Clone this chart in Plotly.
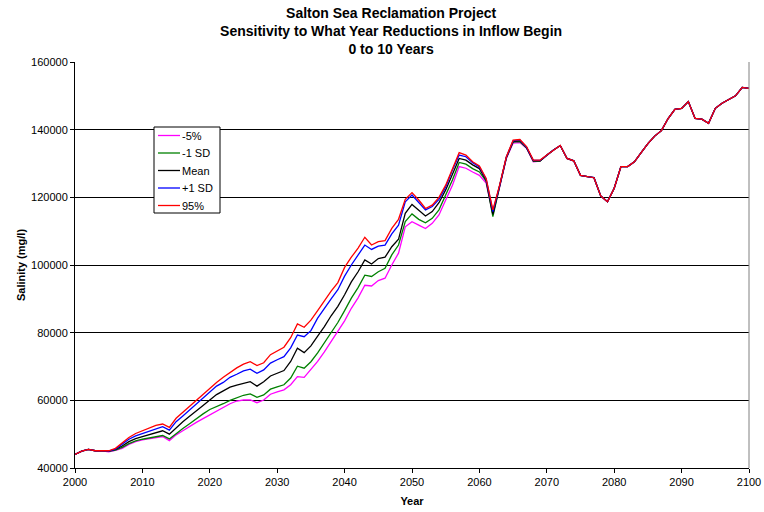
import plotly.graph_objects as go

years = list(range(2000, 2101))

# shared tail, 2070-2100 (all five series coincide)
tail = [132500, 134000, 135300, 131500, 130800, 126500, 126100, 125800, 120400, 118700,
        122700, 129100, 129100, 130500, 133200, 135900, 138100, 139700, 143300, 146000,
        146300, 148300, 143300, 143100, 141900, 146300, 147800, 148800, 150000, 152500,
        152200]

start = [44000, 45000, 45500, 45100, 45100]  # 2000-2004

p95 = start + [45100, 45800, 47500, 49000, 50200, 51000, 51800, 52600, 53000, 52000,
               54700, 56500, 58300, 60000, 61800, 63500, 65300, 66800, 68200, 69600,
               70700, 71400, 70300, 71100, 73500, 74500, 75700, 78500, 82600, 81600,
               83700, 86500, 89500, 92300, 94800, 99300, 102300, 105000, 108200, 105900,
               106900, 107200, 110800, 113500, 119400, 121400, 119200, 116700, 117700, 120000,
               123600, 128600, 133200, 132500, 130500, 129300, 125600, 116300, 123600, 132000,
               136900, 137100, 135000, 131000, 131000] + tail
plus1 = start + [45000, 45600, 47100, 48500, 49500, 50200, 51000, 51700, 52200, 51200,
                 53700, 55400, 57200, 58900, 60700, 62600, 64200, 65300, 66800, 67700,
                 68700, 69200, 68000, 69000, 71000, 72000, 72900, 75500, 79300, 78800,
                 80600, 84300, 87300, 90000, 92700, 96700, 100000, 103000, 105900, 104600,
                 105600, 105900, 109200, 111800, 118700, 120700, 118400, 116300, 117300, 119400,
                 123100, 128100, 132500, 132000, 130200, 129000, 125400, 115800, 123400, 131900,
                 136700, 137000, 134800, 130900, 130900] + tail
mean = start + [45000, 45500, 46500, 47800, 48700, 49300, 49900, 50500, 51000, 50000,
                52000, 53700, 55300, 56800, 58500, 60100, 61700, 62800, 63900, 64500,
                65100, 65500, 64200, 65500, 67200, 68000, 68800, 71500, 75400, 74100,
                76100, 79000, 81800, 85000, 87800, 91200, 95000, 98000, 101500, 100300,
                101900, 102300, 105400, 107600, 115300, 117900, 116300, 114500, 115800, 118400,
                122200, 126600, 131500, 131000, 129600, 128500, 125000, 115000, 123300, 131800,
                136500, 136800, 134700, 130800, 130800] + tail
minus1 = start + [44900, 45300, 46100, 47200, 48000, 48500, 48900, 49300, 49600, 48600,
                  50200, 51700, 53100, 54600, 56000, 57300, 58100, 59000, 60000, 60800,
                  61500, 61900, 60900, 61600, 63300, 64000, 64600, 66600, 70100, 69500,
                  71400, 74000, 77000, 80000, 83000, 86500, 90200, 93300, 97000, 96600,
                  98000, 99000, 103000, 105900, 112800, 115100, 113500, 112500, 113800, 116300,
                  120700, 125100, 130300, 129800, 128500, 127500, 124800, 114300, 123200, 131700,
                  136300, 136500, 134600, 130700, 130700] + tail
p5 = start + [44800, 45200, 45800, 47000, 47800, 48300, 48700, 49000, 49300, 48100,
              49800, 51000, 52300, 53500, 54600, 55700, 56800, 58000, 59000, 59800,
              60100, 60100, 59300, 60100, 61800, 62500, 63100, 64600, 67000, 66800,
              69000, 71500, 74300, 77300, 80300, 83500, 87200, 90300, 94000, 93800,
              95400, 96100, 100000, 103500, 111300, 112800, 111800, 110800, 112300, 114800,
              119200, 123600, 129100, 128600, 127500, 126500, 124200, 115000, 123000, 131500,
              136000, 136200, 134500, 130500, 130700] + tail

names = ["-5%", "-1 SD", "Mean", "+1 SD", "95%"]
colors = ["#FF00FF", "#008000", "#000000", "#0000FF", "#FF0000"]
values = [p5, minus1, mean, plus1, p95]

W, H = 764, 512
L, R, T, B = 75, 15, 62, 44

def px(x):  # pixel -> paper x
    return (x - L) / (W - L - R)

def py(y):  # pixel -> paper y
    return (H - B - y) / (H - T - B)

fig = go.Figure()
for name, vals, col in zip(names, values, colors):
    fig.add_trace(go.Scatter(x=years, y=vals, mode="lines", name=name,
                             line=dict(color=col, width=1.3)))

# Excel-style compact legend box
fig.add_shape(type="rect", xref="paper", yref="paper", x0=px(154), x1=px(220),
              y0=py(213), y1=py(127), line=dict(color="black", width=1),
              fillcolor="white", layer="above")
for i, (name, col) in enumerate(zip(names, colors)):
    yc = 135.5 + i * 17.5
    fig.add_shape(type="line", xref="paper", yref="paper", x0=px(158), x1=px(180),
                  y0=py(yc), y1=py(yc), line=dict(color=col, width=1.3), layer="above")
    fig.add_annotation(text=name, xref="paper", yref="paper", x=px(181), y=py(yc),
                       xanchor="left", yanchor="middle", showarrow=False,
                       font=dict(size=11), borderpad=0)

fig.update_layout(
    width=W, height=H,
    margin=dict(l=L, r=R, t=T, b=B),
    paper_bgcolor="white", plot_bgcolor="white",
    font=dict(family="Arial, Liberation Sans, sans-serif", size=11, color="black"),
    title=dict(text="<b>Salton Sea Reclamation Project<br>Sensitivity to What Year Reductions in Inflow Begin<br>0 to 10 Years</b>",
               x=0.469, xanchor="center", xref="paper", yref="container",
               y=0.965, yanchor="top", font=dict(size=14)),
    showlegend=False,
)
fig.update_xaxes(range=[2000, 2100], dtick=10, tick0=2000, showgrid=False,
                 showline=True, linecolor="black", linewidth=1, mirror=False,
                 ticks="outside", ticklen=4, tickcolor="black", automargin=False,
                 title=dict(text="<b>Year</b>", standoff=10, font=dict(size=11)))
fig.update_yaxes(range=[40000, 160000], dtick=20000, showgrid=True, gridcolor="#000000",
                 gridwidth=1, showline=True, linecolor="black", linewidth=1,
                 ticks="outside", ticklen=4, tickcolor="black", tickformat="d",
                 automargin=False,
                 title=dict(text="<b>Salinity (mg/l)</b>", standoff=3, font=dict(size=11)),
                 zeroline=False)
# grey right frame edge
fig.add_shape(type="line", xref="paper", yref="paper", x0=1, x1=1, y0=0, y1=1,
              line=dict(color="#808080", width=1))

# drop the page's default body margin so the 764x512 figure fills the window
fig.write_html("out.html", config={"displayModeBar": False},
               post_script="document.body.style.margin='0';")
